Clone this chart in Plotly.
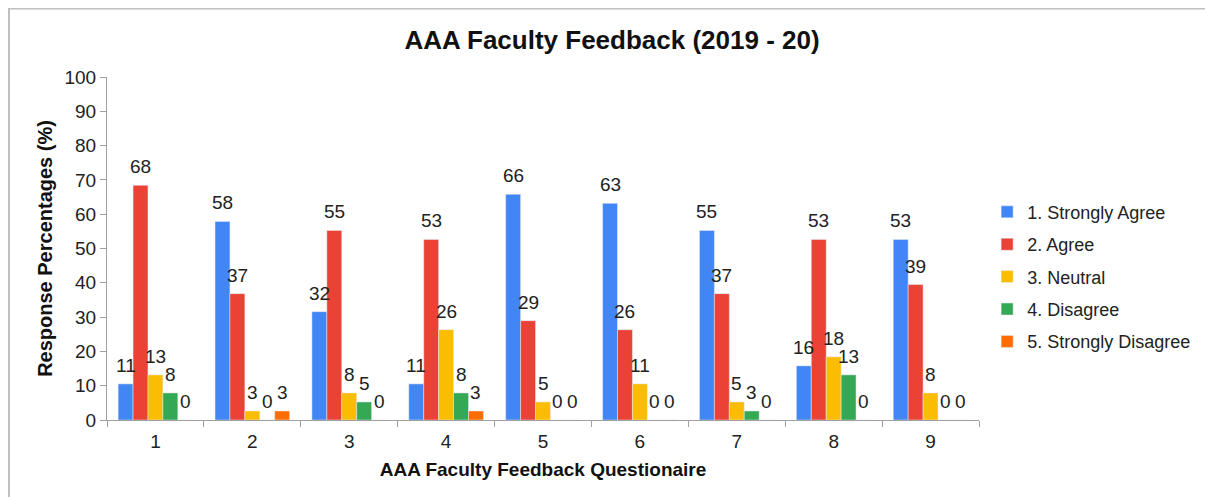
import plotly.graph_objects as go

questions = ["1", "2", "3", "4", "5", "6", "7", "8", "9"]
strongly_agree = [10.53, 57.89, 31.58, 10.53, 65.79, 63.16, 55.26, 15.79, 52.63]
agree = [68.42, 36.84, 55.26, 52.63, 28.95, 26.32, 36.84, 52.63, 39.47]
neutral = [13.16, 2.63, 7.89, 26.32, 5.26, 10.53, 5.26, 18.42, 7.89]
disagree = [7.89, 0, 5.26, 7.89, 0, 0, 2.63, 13.16, 0]
strongly_disagree = [0, 2.63, 0, 2.63, 0, 0, 0, 0, 0]

series_names = ["1. Strongly Agree", "2. Agree", "3. Neutral", "4. Disagree", "5. Strongly Disagree"]
series_values = [strongly_agree, agree, neutral, disagree, strongly_disagree]
colors = ["#4285F4", "#EA4335", "#FBBC04", "#34A853", "#FF6D01"]

FONT = "Arial, 'Liberation Sans', sans-serif"

# page has an 8px body margin, so figure coords = screen coords - 8
W, H = 1205, 489
L, R, T, B = 99, 971, 69, 412
BARGAP = 0.23
n_series = len(series_names)
bar_px = (R - L) / len(questions) * (1 - BARGAP) / n_series

fig = go.Figure()
for i, (name, vals, col) in enumerate(zip(series_names, series_values, colors)):
    fig.add_trace(go.Bar(
        x=questions, y=vals, name=name, marker_color=col,
        legendgroup=f"g{i}", hoverinfo="x+y+name",
    ))
    for j, v in enumerate(vals):
        # on a category axis, annotation x is the category index
        fig.add_annotation(
            x=j, y=v, xref="x", yref="y", text=f"{v:.0f}", showarrow=False,
            xanchor="center", yanchor="bottom",
            xshift=(i - (n_series - 1) / 2) * bar_px, yshift=6,
            font=dict(family=FONT, size=19, color="#222222"),
        )

fig.update_layout(
    width=W, height=H,
    margin=dict(l=L, r=W - R, t=T, b=H - B),
    paper_bgcolor="white", plot_bgcolor="white",
    barmode="group", bargap=BARGAP, bargroupgap=0,
    font=dict(family=FONT, size=19, color="#222222"),
    title=dict(text="<b>AAA Faculty Feedback (2019 - 20)</b>", x=604 / W, xref="container",
               xanchor="center", y=1 - 32 / H, yanchor="middle",
               font=dict(size=26, color="#111111")),
    showlegend=True,
    legend=dict(x=(980 - L) / (R - L) - 0.001, y=0.66, xanchor="left", yanchor="top",
                traceorder="grouped", tracegroupgap=6,
                font=dict(size=18, color="#222222"), itemwidth=30),
    xaxis=dict(
        title=dict(text="<b>AAA Faculty Feedback Questionaire</b>", standoff=11,
                   font=dict(size=19, color="#111111")),
        type="category", categoryorder="array", categoryarray=questions,
        range=[-0.5, len(questions) - 0.5],
        showline=True, linecolor="#A0A0A0", linewidth=1,
        ticks="outside", tickson="boundaries", ticklen=6, tickcolor="#A0A0A0",
        ticklabelstandoff=4,
        tickfont=dict(size=19, color="#222222"), showgrid=False, zeroline=False,
    ),
    yaxis=dict(
        title=dict(text="<b>Response Percentages (%)</b>", standoff=6,
                   font=dict(size=20, color="#111111")),
        range=[0, 100], dtick=10, showline=True, linecolor="#A0A0A0", linewidth=1,
        ticks="outside", ticklen=6, tickcolor="#A0A0A0",
        tickfont=dict(size=19, color="#222222"), showgrid=False, zeroline=False,
    ),
)

def px_x(p):
    return (p - L) / (R - L)

def px_y(p):
    return (B - p) / (B - T)

fig.add_shape(type="line", xref="paper", yref="paper",
              x0=px_x(0), x1=px_x(W), y0=px_y(0.5), y1=px_y(0.5),
              line=dict(color="#C0C0C0", width=2))
fig.add_shape(type="line", xref="paper", yref="paper",
              x0=px_x(1), x1=px_x(1), y0=px_y(0), y1=px_y(H),
              line=dict(color="#C0C0C0", width=2))
fig.add_shape(type="line", xref="paper", yref="paper",
              x0=px_x(W - 1), x1=px_x(W - 1), y0=px_y(0), y1=px_y(H),
              line=dict(color="#EEEEEE", width=1))

fig.write_html("out.html")
